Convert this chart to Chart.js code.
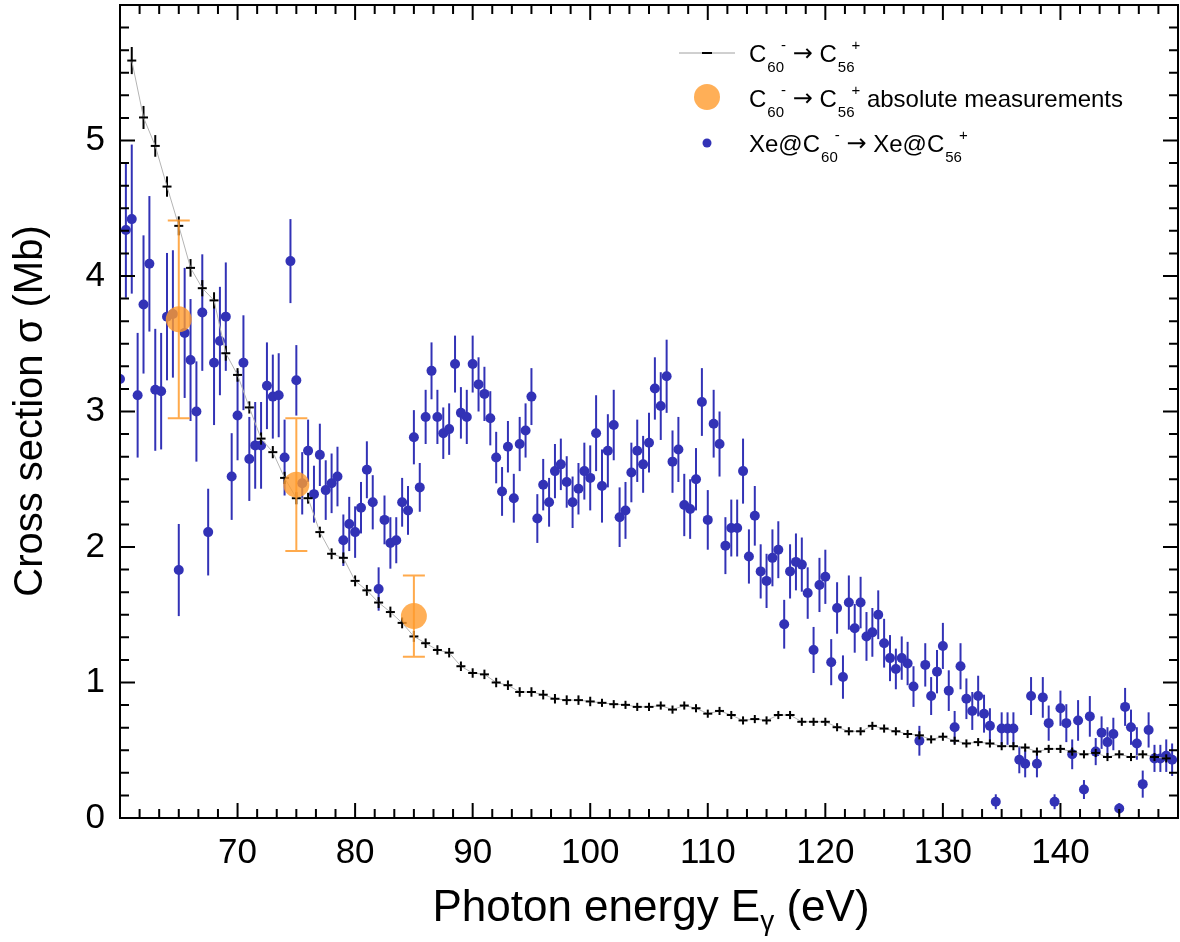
<!DOCTYPE html>
<html>
<head>
<meta charset="utf-8">
<script src="https://cdn.jsdelivr.net/npm/chart.js@4.4.0/dist/chart.umd.min.js"></script>
<style>
  html, body { margin: 0; padding: 0; background: #fff; }
  #wrap { position: relative; width: 1180px; height: 942px; }
</style>
</head>
<body>
<div id="wrap"><canvas id="chartCanvas"></canvas></div>
<script>
// Xe@C60- -> Xe@C56+ (0.5 eV steps)
const xeEnergy = [
  60, 60.5, 61, 61.5, 62, 62.5, 63, 63.5, 64, 64.5,
  65, 65.5, 66, 66.5, 67, 67.5, 68, 68.5, 69, 69.5,
  70, 70.5, 71, 71.5, 72, 72.5, 73, 73.5, 74, 74.5,
  75, 75.5, 76, 76.5, 77, 77.5, 78, 78.5, 79, 79.5,
  80, 80.5, 81, 81.5, 82, 82.5, 83, 83.5, 84, 84.5,
  85, 85.5, 86, 86.5, 87, 87.5, 88, 88.5, 89, 89.5,
  90, 90.5, 91, 91.5, 92, 92.5, 93, 93.5, 94, 94.5,
  95, 95.5, 96, 96.5, 97, 97.5, 98, 98.5, 99, 99.5,
  100, 100.5, 101, 101.5, 102, 102.5, 103, 103.5, 104, 104.5,
  105, 105.5, 106, 106.5, 107, 107.5, 108, 108.5, 109, 109.5,
  110, 110.5, 111, 111.5, 112, 112.5, 113, 113.5, 114, 114.5,
  115, 115.5, 116, 116.5, 117, 117.5, 118, 118.5, 119, 119.5,
  120, 120.5, 121, 121.5, 122, 122.5, 123, 123.5, 124, 124.5,
  125, 125.5, 126, 126.5, 127, 127.5, 128, 128.5, 129, 129.5,
  130, 130.5, 131, 131.5, 132, 132.5, 133, 133.5, 134, 134.5,
  135, 135.5, 136, 136.5, 137, 137.5, 138, 138.5, 139, 139.5,
  140, 140.5, 141, 141.5, 142, 142.5, 143, 143.5, 144, 144.5,
  145, 145.5, 146, 146.5, 147, 147.5, 148, 148.5, 149, 149.5
];
const xeSigma = [
  3.24, 4.34, 4.42, 3.12, 3.79, 4.09, 3.16, 3.15, 3.70, 3.72,
  1.83, 3.58, 3.38, 3.00, 3.73, 2.11, 3.36, 3.52, 3.70, 2.52,
  2.97, 3.36, 2.65, 2.75, 2.75, 3.19, 3.11, 3.12, 2.66, 4.11,
  3.23, 2.47, 2.71, 2.39, 2.68, 2.42, 2.47, 2.52, 2.05, 2.17,
  2.11, 2.29, 2.57, 2.33, 1.69, 2.20, 2.03, 2.05, 2.33, 2.27,
  2.81, 2.44, 2.96, 3.30, 2.96, 2.84, 2.87, 3.35, 2.99, 2.96,
  3.35, 3.20, 3.13, 2.95, 2.66, 2.41, 2.74, 2.36, 2.76, 2.86,
  3.11, 2.21, 2.46, 2.33, 2.56, 2.61, 2.48, 2.33, 2.43, 2.56,
  2.51, 2.84, 2.45, 2.71, 2.90, 2.22, 2.27, 2.55, 2.71, 2.61,
  2.77, 3.17, 3.04, 3.26, 2.63, 2.72, 2.31, 2.28, 2.50, 3.07,
  2.20, 2.91, 2.76, 2.01, 2.14, 2.14, 2.56, 1.93, 2.23, 1.82,
  1.75, 1.92, 1.98, 1.43, 1.82, 1.89, 1.87, 1.66, 1.24, 1.72,
  1.78, 1.15, 1.55, 1.04, 1.59, 1.40, 1.59, 1.34, 1.37, 1.50,
  1.29, 1.18, 1.10, 1.18, 1.14, 0.97, 0.57, 1.13, 0.90, 1.08,
  1.27, 0.94, 0.67, 1.12, 0.88, 0.79, 0.90, 0.77, 0.68, 0.12,
  0.66, 0.66, 0.66, 0.43, 0.40, 0.90, 0.40, 0.89, 0.70, 0.12,
  0.81, 0.70, 0.47, 0.72, 0.21, 0.75, 0.49, 0.63, 0.56, 0.62,
  0.07, 0.82, 0.67, 0.55, 0.25, 0.65, 0.44, 0.44, 0.46, 0.43
];
const xeErr = [
  0.35, 0.50, 0.55, 0.46, 0.51, 0.50, 0.45, 0.43, 0.47, 0.47,
  0.34, 0.48, 0.45, 0.37, 0.43, 0.32, 0.46, 0.40, 0.40, 0.32,
  0.33, 0.35, 0.31, 0.32, 0.32, 0.32, 0.31, 0.31, 0.28, 0.31,
  0.26, 0.23, 0.23, 0.21, 0.23, 0.22, 0.22, 0.22, 0.19, 0.20,
  0.19, 0.19, 0.21, 0.20, 0.16, 0.18, 0.19, 0.17, 0.18, 0.18,
  0.20, 0.18, 0.20, 0.21, 0.20, 0.19, 0.19, 0.21, 0.19, 0.20,
  0.21, 0.20, 0.20, 0.20, 0.19, 0.18, 0.19, 0.18, 0.20, 0.20,
  0.21, 0.18, 0.19, 0.18, 0.20, 0.19, 0.19, 0.19, 0.19, 0.21,
  0.24, 0.28, 0.27, 0.27, 0.26, 0.22, 0.21, 0.22, 0.23, 0.21,
  0.22, 0.23, 0.25, 0.27, 0.23, 0.24, 0.23, 0.22, 0.23, 0.25,
  0.22, 0.25, 0.24, 0.21, 0.21, 0.21, 0.24, 0.20, 0.22, 0.20,
  0.20, 0.21, 0.21, 0.18, 0.20, 0.21, 0.20, 0.19, 0.17, 0.20,
  0.20, 0.17, 0.19, 0.16, 0.20, 0.18, 0.19, 0.18, 0.18, 0.18,
  0.18, 0.17, 0.15, 0.16, 0.16, 0.15, 0.11, 0.16, 0.14, 0.16,
  0.17, 0.15, 0.12, 0.17, 0.15, 0.14, 0.15, 0.14, 0.13, 0.055,
  0.12, 0.12, 0.12, 0.10, 0.10, 0.14, 0.10, 0.15, 0.13, 0.055,
  0.13, 0.14, 0.11, 0.15, 0.07, 0.15, 0.10, 0.12, 0.11, 0.12,
  0.04, 0.14, 0.13, 0.12, 0.10, 0.13, 0.10, 0.10, 0.12, 0.12
];

// C60- -> C56+ (1 eV steps, relative scan)
const c60Energy = [
  61, 62, 63, 64, 65, 66, 67, 68, 69, 70,
  71, 72, 73, 74, 75, 76, 77, 78, 79, 80,
  81, 82, 83, 84, 85, 86, 87, 88, 89, 90,
  91, 92, 93, 94, 95, 96, 97, 98, 99, 100,
  101, 102, 103, 104, 105, 106, 107, 108, 109, 110,
  111, 112, 113, 114, 115, 116, 117, 118, 119, 120,
  121, 122, 123, 124, 125, 126, 127, 128, 129, 130,
  131, 132, 133, 134, 135, 136, 137, 138, 139, 140,
  141, 142, 143, 144, 145, 146, 147, 148, 149
];
const c60Sigma = [
  5.59, 5.17, 4.96, 4.66, 4.37, 4.06, 3.91, 3.82, 3.43, 3.27,
  3.03, 2.80, 2.70, 2.51, 2.36, 2.36, 2.11, 1.95, 1.92, 1.75,
  1.68, 1.59, 1.52, 1.44, 1.34, 1.29, 1.24, 1.22, 1.12, 1.07,
  1.06, 1.00, 0.98, 0.93, 0.93, 0.91, 0.88, 0.87, 0.87, 0.86,
  0.85, 0.84, 0.835, 0.82, 0.82, 0.83, 0.80, 0.83, 0.81, 0.77,
  0.79, 0.76, 0.72, 0.73, 0.72, 0.76, 0.76, 0.71, 0.71, 0.71,
  0.67, 0.64, 0.64, 0.68, 0.66, 0.64, 0.62, 0.61, 0.58, 0.60,
  0.57, 0.55, 0.56, 0.55, 0.53, 0.53, 0.52, 0.49, 0.51, 0.51,
  0.49, 0.47, 0.48, 0.45, 0.47, 0.45, 0.47, 0.45, 0.44
];
const c60Err = [
  0.10, 0.085, 0.08, 0.075, 0.07, 0.065, 0.06, 0.06, 0.055, 0.05,
  0.045, 0.045, 0.045, 0.045, 0.045, 0.04, 0.04, 0.04, 0.04, 0.04,
  0.04, 0.04, 0.04, 0.04, 0.04, 0.035, 0.035, 0.035, 0.035, 0.035,
  0.035, 0.035, 0.035, 0.035, 0.035, 0.035, 0.035, 0.035, 0.035, 0.035,
  0.03, 0.03, 0.03, 0.03, 0.03, 0.03, 0.03, 0.03, 0.03, 0.03,
  0.03, 0.03, 0.03, 0.03, 0.03, 0.03, 0.03, 0.03, 0.03, 0.03,
  0.03, 0.03, 0.03, 0.03, 0.03, 0.03, 0.03, 0.03, 0.03, 0.03,
  0.03, 0.03, 0.03, 0.03, 0.03, 0.03, 0.03, 0.03, 0.03, 0.03,
  0.03, 0.03, 0.03, 0.03, 0.03, 0.03, 0.03, 0.03, 0.03
];

// C60- -> C56+ absolute measurements
const absEnergy = [65, 75, 85];
const absSigma = [3.68, 2.46, 1.49];
const absErr = [0.73, 0.49, 0.30];

// axes
const xMin = 60, xMax = 150, xStep = 10;
const yMin = 0, yMax = 6, yStep = 1;

const FONT = '"Liberation Sans", Arial, Helvetica, sans-serif';
const ARROW_FONT = '"DejaVu Sans", sans-serif';
const BLUE = '#3232b6';
const ORANGE = 'rgba(255,155,45,0.8)';

function toPoints(xs, ys) {
    return xs.map((x, i) => ({ x: x, y: ys[i] }));
}

// vertical error bars, drawn under each dataset's markers
const errorBars = {
    id: 'errorBars',
    beforeDatasetDraw(chart, args) {
        const ds = chart.data.datasets[args.index];
        if (!ds.errors) return;
        const c = chart.ctx;
        const a = chart.chartArea;
        const ys = chart.scales.y;
        c.save();
        c.beginPath();
        c.rect(a.left, a.top, a.right - a.left, a.bottom - a.top);
        c.clip();
        c.strokeStyle = ds.errColor;
        c.lineWidth = ds.errWidth;
        args.meta.data.forEach((pt, i) => {
            const v = ds.data[i].y;
            const e = ds.errors[i];
            const y1 = ys.getPixelForValue(v + e);
            const y2 = ys.getPixelForValue(v - e);
            c.beginPath();
            c.moveTo(pt.x, y1);
            c.lineTo(pt.x, y2);
            if (ds.capWidth) {
                const h = ds.capWidth / 2;
                c.moveTo(pt.x - h, y1);
                c.lineTo(pt.x + h, y1);
                c.moveTo(pt.x - h, y2);
                c.lineTo(pt.x + h, y2);
            }
            c.stroke();
        });
        c.restore();
    }
};

// box frame with inward ticks on all four sides
const frame = {
    id: 'frame',
    afterDatasetsDraw(chart) {
        const c = chart.ctx;
        const a = chart.chartArea;
        const xs = chart.scales.x;
        const ys = chart.scales.y;
        c.save();
        c.strokeStyle = '#000';
        c.lineWidth = 2;
        c.strokeRect(a.left, a.top, a.right - a.left, a.bottom - a.top);
        c.beginPath();
        const nx = (xMax - xMin) / xStep * 6;
        for (let k = 0; k <= nx; k++) {
            const px = xs.getPixelForValue(xMin + k * xStep / 6);
            const len = k % 6 === 0 ? 15 : 9;
            c.moveTo(px, a.bottom);
            c.lineTo(px, a.bottom - len);
            c.moveTo(px, a.top);
            c.lineTo(px, a.top + len);
        }
        const ny = (yMax - yMin) / yStep * 6;
        for (let k = 0; k <= ny; k++) {
            const py = ys.getPixelForValue(yMin + k * yStep / 6);
            const len = k % 6 === 0 ? 15 : 9;
            c.moveTo(a.left, py);
            c.lineTo(a.left + len, py);
            c.moveTo(a.right, py);
            c.lineTo(a.right - len, py);
        }
        c.stroke();
        c.restore();
    }
};

// text with stacked sub/superscripts; 'arrow' gets a wider glyph
function richText(c, x, base, parts, size, small) {
    c.textAlign = 'left';
    c.textBaseline = 'alphabetic';
    for (const p of parts) {
        if (p === 'arrow') {
            c.font = size + 'px ' + ARROW_FONT;
            c.fillText('\u2192', x, base - 1);
            x += c.measureText('\u2192').width;
        } else if (typeof p === 'string') {
            c.font = size + 'px ' + FONT;
            c.fillText(p, x, base);
            x += c.measureText(p).width;
        } else {
            c.font = small + 'px ' + FONT;
            let w = 0;
            if (p.sub) {
                c.fillText(p.sub, x + 1, base + small * 0.65);
                w = c.measureText(p.sub).width + 1;
            }
            if (p.sup) {
                const sx = p.sub ? x + w - 3 : x + 1;
                c.fillText(p.sup, sx, base - size * 0.5);
                w = Math.max(w, sx - x + c.measureText(p.sup).width);
            }
            x += w;
        }
    }
    return x;
}

const legendBox = {
    id: 'legendBox',
    afterDraw(chart) {
        const c = chart.ctx;
        c.save();
        // line + dash sample
        c.strokeStyle = '#a0a0a0';
        c.lineWidth = 1;
        c.beginPath();
        c.moveTo(679, 53);
        c.lineTo(735, 53);
        c.stroke();
        c.strokeStyle = '#000';
        c.lineWidth = 2;
        c.beginPath();
        c.moveTo(702, 53);
        c.lineTo(712, 53);
        c.stroke();
        // orange disc
        c.fillStyle = ORANGE;
        c.beginPath();
        c.arc(707, 97, 13, 0, Math.PI * 2);
        c.fill();
        // blue dot
        c.fillStyle = BLUE;
        c.beginPath();
        c.arc(707, 143, 4.5, 0, Math.PI * 2);
        c.fill();

        c.fillStyle = '#000';
        const row = ['C', { sub: '60', sup: '-' }, ' ', 'arrow', ' C', { sub: '56', sup: '+' }];
        richText(c, 749, 62, row, 24, 15);
        richText(c, 749, 107, row.concat([' absolute measurements']), 24, 15);
        richText(c, 749, 152, [
            'Xe@C', { sub: '60', sup: '-' }, ' ', 'arrow', ' Xe@C', { sub: '56', sup: '+' }
        ], 24, 15);
        c.restore();
    }
};

const axisTitles = {
    id: 'axisTitles',
    afterDraw(chart) {
        const c = chart.ctx;
        c.save();
        c.fillStyle = '#000';
        c.textBaseline = 'alphabetic';
        // x title with subscript gamma
        c.font = '44px ' + FONT;
        const t1 = 'Photon energy E';
        const t2 = ' (eV)';
        const w1 = c.measureText(t1).width;
        const w3 = c.measureText(t2).width;
        c.font = '28px ' + FONT;
        const w2 = c.measureText('\u03b3').width;
        let x = 651 - (w1 + w2 + w3) / 2;
        const base = 921;
        c.font = '44px ' + FONT;
        c.fillText(t1, x, base);
        x += w1;
        c.font = '28px ' + FONT;
        c.fillText('\u03b3', x, base + 9);
        x += w2;
        c.font = '44px ' + FONT;
        c.fillText(t2, x, base);
        // y title
        c.translate(42, 411);
        c.rotate(-Math.PI / 2);
        c.textAlign = 'center';
        c.font = '40px ' + FONT;
        c.fillText('Cross section \u03c3 (Mb)', 0, 0);
        c.restore();
    }
};

function initializeChart() {
    const canvas = document.getElementById('chartCanvas');
    const ctx = canvas.getContext('2d');
    new Chart(ctx, {
        type: 'scatter',
        data: {
            datasets: [
                {
                    label: 'Xe@C60- -> Xe@C56+',
                    data: toPoints(xeEnergy, xeSigma),
                    errors: xeErr,
                    errColor: BLUE,
                    errWidth: 2,
                    pointRadius: 5,
                    pointBackgroundColor: BLUE,
                    pointBorderWidth: 0,
                    clip: 0,
                    order: 3
                },
                {
                    label: 'C60- -> C56+',
                    data: toPoints(c60Energy, c60Sigma),
                    errors: c60Err,
                    errColor: '#000',
                    errWidth: 2,
                    showLine: true,
                    borderColor: '#b4b4b4',
                    borderWidth: 1,
                    pointStyle: 'line',
                    pointRadius: 4.5,
                    pointBorderColor: '#000',
                    pointBorderWidth: 2,
                    clip: 0,
                    order: 2
                },
                {
                    label: 'C60- -> C56+ absolute measurements',
                    data: toPoints(absEnergy, absSigma),
                    errors: absErr,
                    errColor: 'rgba(255,155,45,0.85)',
                    errWidth: 2,
                    capWidth: 22,
                    pointRadius: 13,
                    pointBackgroundColor: ORANGE,
                    pointBorderWidth: 0,
                    clip: 0,
                    order: 1
                }
            ]
        },
        options: {
            responsive: true,
            maintainAspectRatio: false,
            animation: false,
            events: [],
            layout: {
                autoPadding: false,
                padding: { top: 5, right: 2, left: 0, bottom: 0 }
            },
            plugins: {
                legend: { display: false },
                tooltip: { enabled: false }
            },
            scales: {
                x: {
                    type: 'linear',
                    min: xMin,
                    max: xMax,
                    grid: { display: false, drawTicks: false },
                    border: { display: false },
                    ticks: {
                        stepSize: xStep,
                        autoSkip: false,
                        maxRotation: 0,
                        padding: 14,
                        color: '#000',
                        font: { family: FONT, size: 35 },
                        callback: v => (v > xMin && v < xMax) ? v : ''
                    },
                    afterFit: s => {
                        s.height = 124;
                        s.paddingLeft = 0;
                        s.paddingRight = 0;
                    }
                },
                y: {
                    type: 'linear',
                    min: yMin,
                    max: yMax,
                    grid: { display: false, drawTicks: false },
                    border: { display: false },
                    ticks: {
                        stepSize: yStep,
                        padding: 15,
                        color: '#000',
                        font: { family: FONT, size: 35 },
                        callback: v => v < yMax ? v : ''
                    },
                    afterFit: s => {
                        s.width = 120;
                        s.paddingTop = 0;
                        s.paddingBottom = 0;
                    }
                }
            }
        },
        plugins: [errorBars, frame, legendBox, axisTitles]
    });
}

initializeChart();
</script>
</body>
</html>
